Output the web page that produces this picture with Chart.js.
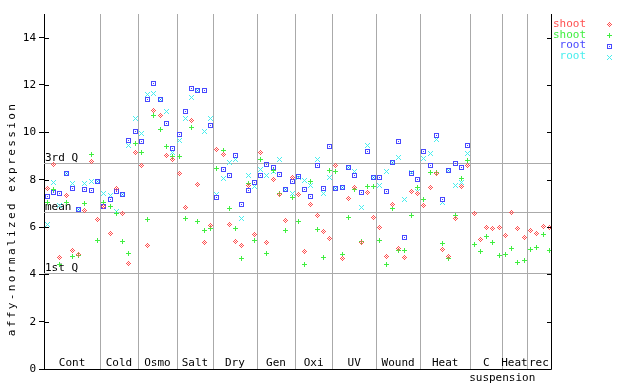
<!DOCTYPE html>
<html>
<head>
<meta charset="utf-8">
<script src="https://cdn.jsdelivr.net/npm/chart.js@4.4.1/dist/chart.umd.min.js"></script>
<style>
  html, body { margin: 0; padding: 0; background: #fff; }
</style>
</head>
<body>
<canvas id="exprChart" width="640" height="384"></canvas>
<script>
// sample groups along the x axis, and where each group ends (sample index)
var groups = ["Cont", "Cold", "Osmo", "Salt", "Dry", "Gen", "Oxi", "UV", "Wound", "Heat", "C", "Heat", "rec"];
var groupEnds = [8.4, 14.45, 20.65, 26.4, 33.4, 39.5, 45.4, 52.4, 59.4, 67.4, 72.5, 76.4];
var quartiles = [8.70, 6.63, 4.07];
var quartileLabels = ["3rd Q", "mean", "1st Q"];
var yTicks = [0, 2, 4, 6, 8, 10, 12, 14];
var seriesNames = ["shoot", "shoot", "root", "root"];

var shootA = [7.64, 8.62, 4.72, 7.34, 4.99, 4.82, 6.71, 8.78, 6.33,
  6.88, 5.74, 7.64, 6.58, 4.47, 9.16,
  8.61, 5.23, 10.91, 10.73, 9.03, 8.87,
  8.27, 6.84, 10.50, 7.81, 5.36, 6.07,
  9.29, 9.08, 6.12, 5.40, 5.23, 7.77, 5.69,
  9.16, 5.36, 8.02, 7.39, 6.29, 8.10,
  7.39, 4.98, 6.96, 6.50, 5.82, 5.53,
  8.58, 4.68, 7.22, 7.68, 5.36, 7.47, 6.41,
  5.99, 4.76, 6.96, 5.10, 4.72, 7.51, 7.43,
  6.92, 7.68, 8.27, 5.06, 4.76, 6.37, 7.72, 8.61,
  6.58, 5.48, 5.99, 5.95, 5.99,
  5.65, 6.63, 5.95, 5.57,
  5.86, 5.74, 6.03, 5.99];
var shootB = [7.05, 7.60, 4.43, 7.05, 4.76, 4.80, 7.00, 9.05, 5.44,
  7.05, 6.88, 6.58, 5.40, 4.89, 9.54,
  9.16, 6.33, 10.73, 10.13, 9.42, 9.00,
  9.00, 6.37, 10.22, 6.25, 5.86, 5.95,
  8.49, 9.25, 6.79, 5.95, 4.68, 7.85, 5.44,
  8.87, 4.89, 8.40, 7.40, 5.86, 7.26,
  6.25, 4.43, 7.94, 5.91, 4.72, 8.40,
  8.36, 4.85, 6.41, 7.60, 5.40, 7.72, 7.72,
  5.44, 4.43, 6.79, 5.02, 5.02, 6.50, 7.68,
  7.18, 8.32, 8.32, 5.31, 4.68, 6.50, 8.06, 8.82,
  5.27, 4.98, 5.61, 5.36, 4.81,
  4.85, 5.10, 4.51, 4.60,
  5.06, 5.15, 5.69, 5.02];
var rootA = [7.30, 7.47, 7.43, 8.27, 7.64, 6.75, 7.60, 7.56, 7.93,
  6.88, 7.17, 7.51, 7.39, 9.67, 10.05,
  9.63, 11.40, 12.08, 11.40, 10.39, 9.33,
  9.92, 10.90, 11.87, 11.75, 11.78, 10.30,
  7.26, 8.44, 8.19, 9.03, 6.96, 7.56, 7.89,
  8.19, 8.66, 8.53, 8.23, 7.60, 7.94,
  8.15, 7.60, 7.30, 8.61, 7.64, 9.42,
  7.64, 7.66, 8.53, 8.19, 7.47, 9.20, 8.10,
  8.10, 7.51, 8.72, 9.63, 5.57, 8.27, 8.02,
  9.20, 8.61, 9.85, 7.18, 8.40, 8.70, 8.53, 9.46];
var rootB = [6.12, 7.89, 6.92, 8.27, 7.84, 6.75, 7.84, 7.93, 7.93,
  7.43, 7.34, 6.67, 7.39, 9.46, 10.60,
  9.97, 11.60, 11.66, 11.40, 10.90, 9.16,
  9.67, 10.60, 11.49, 11.75, 10.05, 10.60,
  7.39, 8.06, 8.74, 8.87, 6.37, 8.19, 7.72,
  8.44, 8.19, 8.36, 8.87, 7.60, 7.43,
  8.10, 7.98, 7.77, 8.87, 7.43, 8.10,
  7.64, 7.66, 8.53, 8.36, 6.84, 9.46, 8.10,
  7.77, 8.36, 8.72, 8.95, 7.18, 8.30, 7.51,
  8.91, 9.12, 9.68, 7.05, 8.40, 7.77, 7.89, 9.12];

var colors = ["#ff5050", "#40ee40", "#4848ff", "#48eeee"];
var font = "DejaVu Sans Mono";

// little pixel markers like the original plot
function sprite(rows, color) {
  var c = document.createElement("canvas");
  c.width = rows[0].length;
  c.height = rows.length;
  var g = c.getContext("2d");
  g.fillStyle = color;
  for (var r = 0; r < rows.length; r++) {
    for (var k = 0; k < rows[r].length; k++) {
      if (rows[r][k] == "X") g.fillRect(k, r, 1, 1);
    }
  }
  return c;
}
var markers = [
  sprite(["..X..", ".X.X.", "X.X.X", ".X.X.", "..X.."], colors[0]),
  sprite(["..X..", "..X..", "XXXXX", "..X..", "..X.."], colors[1]),
  sprite(["XXXXX", "X...X", "X.X.X", "X...X", "XXXXX"], colors[2]),
  sprite(["X...X", ".X.X.", "..X..", ".X.X.", "X...X"], colors[3])
];

function points(arr) {
  var out = [];
  for (var i = 0; i < arr.length; i++) {
    if (arr[i] != null) out.push({x: i, y: arr[i]});
  }
  return out;
}

var xMin = -0.526, xMax = 80.27;

var decor = {
  id: "decor",
  beforeDatasetsDraw: function(chart) {
    var ctx = chart.ctx, a = chart.chartArea;
    var xs = chart.scales.x, ys = chart.scales.y;
    ctx.save();
    ctx.strokeStyle = "#aaaaaa";
    ctx.lineWidth = 1;
    for (var i = 0; i < groupEnds.length; i++) {
      var px = Math.round(xs.getPixelForValue(groupEnds[i])) + 0.5;
      ctx.beginPath();
      ctx.moveTo(px, a.top);
      ctx.lineTo(px, a.bottom);
      ctx.stroke();
    }
    ctx.font = "11px " + font;
    ctx.fillStyle = "#000";
    for (var q = 0; q < quartiles.length; q++) {
      var py = Math.round(ys.getPixelForValue(quartiles[q])) + 0.5;
      ctx.beginPath();
      ctx.moveTo(a.left, py);
      ctx.lineTo(a.right, py);
      ctx.stroke();
      ctx.textAlign = "left";
      ctx.textBaseline = "bottom";
      ctx.fillText(quartileLabels[q], a.left + 1, py);
    }
    // group names along the bottom
    ctx.textAlign = "center";
    ctx.textBaseline = "middle";
    var edges = [xMin].concat(groupEnds).concat([xMax]);
    for (var g = 0; g < groups.length; g++) {
      var cx = (xs.getPixelForValue(edges[g]) + xs.getPixelForValue(edges[g + 1])) / 2;
      ctx.fillText(groups[g], cx, a.bottom - 6);
    }
    ctx.fillText("suspension", xs.getPixelForValue(groupEnds[10]), a.bottom + 9);
    ctx.restore();
    ctx.imageSmoothingEnabled = false;
  },
  afterDraw: function(chart) {
    var ctx = chart.ctx, a = chart.chartArea, ys = chart.scales.y;
    ctx.save();
    ctx.strokeStyle = "#000";
    ctx.lineWidth = 1;
    ctx.beginPath();
    ctx.moveTo(a.left - 0.5, a.bottom + 0.5);
    ctx.lineTo(a.right + 0.5, a.bottom + 0.5);
    ctx.moveTo(a.right + 0.5, a.top);
    ctx.lineTo(a.right + 0.5, a.bottom + 0.5);
    // small inward ticks on both sides
    for (var t = 0; t < yTicks.length; t++) {
      var py = Math.round(ys.getPixelForValue(yTicks[t])) + 0.5;
      ctx.moveTo(a.left, py);
      ctx.lineTo(a.left + 5, py);
      ctx.moveTo(a.right - 4, py);
      ctx.lineTo(a.right, py);
    }
    ctx.stroke();
    // y title
    ctx.fillStyle = "#000";
    ctx.font = "11px " + font;
    ctx.letterSpacing = "2.4px";
    ctx.translate(12, 219);
    ctx.rotate(-Math.PI / 2);
    ctx.textAlign = "center";
    ctx.textBaseline = "middle";
    ctx.fillText("affy-normalized expression", 0, 0);
    ctx.restore();
    // legend
    ctx.save();
    ctx.font = "11px " + font;
    ctx.textAlign = "right";
    ctx.textBaseline = "middle";
    ctx.imageSmoothingEnabled = false;
    var rowsY = [24, 35, 45.5, 56.5];
    for (var s = 0; s < seriesNames.length; s++) {
      ctx.fillStyle = colors[s];
      ctx.fillText(seriesNames[s], 586, rowsY[s]);
      ctx.drawImage(markers[s], 607, Math.round(rowsY[s]) - 2);
    }
    ctx.restore();
  }
};

var sets = [shootA, shootB, rootA, rootB];
var datasets = [];
for (var d = 0; d < sets.length; d++) {
  datasets.push({
    label: seriesNames[d],
    data: points(sets[d]),
    pointStyle: markers[d],
    pointRadius: 3,
    pointHoverRadius: 3,
    showLine: false
  });
}

var ctx = document.getElementById("exprChart").getContext("2d");
var myChart = new Chart(ctx, {
  type: "scatter",
  data: { datasets: datasets },
  plugins: [decor],
  options: {
    responsive: false,
    animation: false,
    devicePixelRatio: 1,
    layout: { padding: { top: 14, right: 89, bottom: 15, left: 0 } },
    plugins: { legend: { display: false }, tooltip: { enabled: false } },
    scales: {
      x: { type: "linear", min: xMin, max: xMax, display: false },
      y: {
        min: 0,
        max: 15,
        afterBuildTicks: function(s) { s.ticks = yTicks.map(function(v) { return {value: v}; }); },
        afterFit: function(s) { s.width = 44; },
        ticks: { font: { family: font, size: 11 }, color: "#000", padding: 3 },
        grid: { drawOnChartArea: false, drawTicks: true, tickLength: 5, color: "#000" },
        border: { display: true, color: "#000" }
      }
    }
  }
});
</script>
</body>
</html>
